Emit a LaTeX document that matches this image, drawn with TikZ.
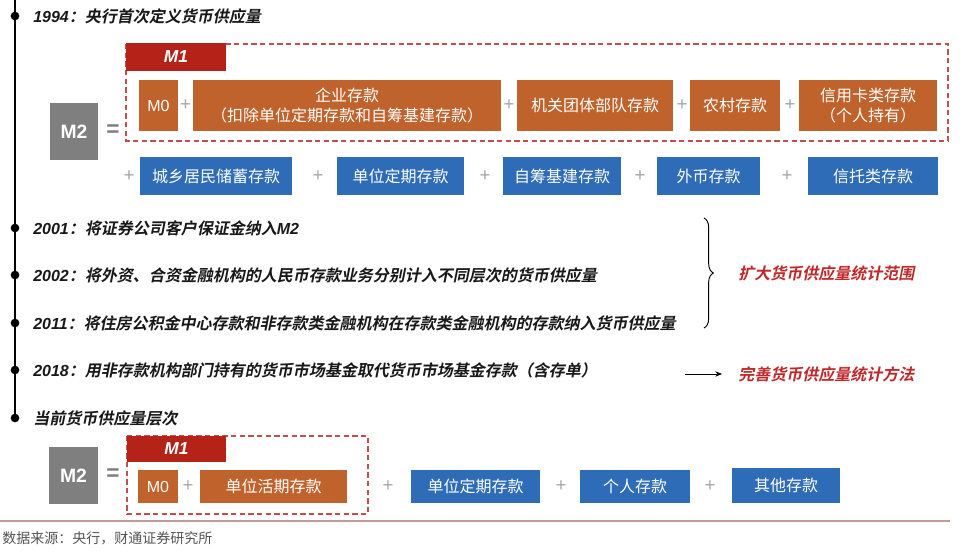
\documentclass[tikz,border=0pt]{standalone}
\usepackage{fontspec}
\setmainfont{Liberation Sans}
\newfontfamily\cjk{Noto Sans CJK SC}
\newfontfamily\cjkh[FakeSlant=0.2]{Noto Sans CJK SC Bold}
\usetikzlibrary{decorations.pathreplacing,arrows.meta}
\definecolor{orB}{HTML}{C0622B}
\definecolor{redB}{HTML}{B52218}
\definecolor{bluB}{HTML}{2E6CB8}
\definecolor{gryB}{HTML}{7F7F7F}
\definecolor{dashR}{HTML}{C0504D}
\definecolor{lblR}{HTML}{C0282A}
\definecolor{plusG}{HTML}{A6A6A6}
\definecolor{srcG}{HTML}{555555}
\definecolor{ruleR}{HTML}{C49A94}
\tikzset{
 wh/.style 2 args={minimum width=#1*0.75pt, minimum height=#2*0.75pt},
 cbox/.style={inner sep=0pt, text=white, font=\cjk\fontsize{12}{15}\selectfont, align=center},
 orbox/.style={cbox, fill=orB},
 blbox/.style={cbox, fill=bluB},
 m1box/.style={inner sep=0pt, fill=redB, text=white, font=\bfseries\itshape\fontsize{13}{14}\selectfont},
 m2box/.style={inner sep=0pt, fill=gryB, text=white, font=\bfseries\fontsize{14.5}{16}\selectfont},
 m0box/.style={orbox, font=\fontsize{12}{14}\selectfont},
 dbox/.style={draw=dashR, line width=0.9pt, dash pattern=on 4pt off 2.5pt},
 plus/.style={text=plusG, font=\fontsize{14}{14}\selectfont, inner sep=0pt},
 eq/.style={text=gryB, font=\bfseries\fontsize{17}{17}\selectfont, inner sep=0pt},
 head/.style={anchor=west, inner sep=0pt, font=\cjkh\fontsize{12}{14}\selectfont, text=black!90},
 lbl/.style={anchor=west, inner sep=0pt, font=\cjkh\fontsize{12}{14}\selectfont, text=lblR},
 tdot/.style={circle, fill=black, inner sep=0pt, minimum size=6.5pt},
}
\newcommand{\yr}[1]{{\fontspec{Liberation Sans}\bfseries\itshape #1}}
\begin{document}
\begin{tikzpicture}[x=0.75pt,y=-0.75pt]
\fill[white] (0,0) rectangle (960,552);
\useasboundingbox (0,0) rectangle (960,552);

% timeline
\draw[line width=1.5pt] (15,0) -- (15,420);
\node[tdot] (d1) at (15,16) {};
\node[tdot] (d2) at (15,228) {};
\node[tdot] (d3) at (15,275) {};
\node[tdot] (d4) at (15,323) {};
\node[tdot] (d5) at (15,370) {};
\node[tdot] (d6) at (15,418) {};

\node[head] (h1) at (33,16) {\yr{1994}：央行首次定义货币供应量};
\node[head] (h2) at (33,228) {\yr{2001}：将证券公司客户保证金纳入\yr{M2}};
\node[head] (h3) at (33,275) {\yr{2002}：将外资、合资金融机构的人民币存款业务分别计入不同层次的货币供应量};
\node[head] (h4) at (33,323) {\yr{2011}：将住房公积金中心存款和非存款类金融机构在存款类金融机构的存款纳入货币供应量};
\node[head] (h5) at (33,370) {\yr{2018}：用非存款机构部门持有的货币市场基金取代货币市场基金存款（含存单）};
\node[head] (h6) at (33,418) {当前货币供应量层次};

% 1994 structure
\draw[dbox] (126,44) rectangle (948,141);
\node[m1box, wh={100}{28}] (m1a) at (176,57) {M1};
\node[m2box, wh={48}{57}] (m2a) at (74,131.5) {M2};
\node[eq] (eqa) at (113,131) {=};
\node[m0box, wh={39}{51}] (m0a) at (158.5,105.5) {M0};
\node[orbox, wh={308}{51}] (qy) at (347,105.5) {企业存款\\（扣除单位定期存款和自筹基建存款）};
\node[orbox, wh={156}{51}] (jg) at (595,105.5) {机关团体部队存款};
\node[orbox, wh={90}{51}] (nc) at (735,105.5) {农村存款};
\node[orbox, wh={138}{51}] (xyk) at (868,105.5) {信用卡类存款\\（个人持有）};
\node[plus] (p1) at (185.5,105.5) {+};
\node[plus] (p2) at (509,105.5) {+};
\node[plus] (p3) at (682,105.5) {+};
\node[plus] (p4) at (790,105.5) {+};

\node[blbox, wh={152}{38}] (cx) at (216,176) {城乡居民储蓄存款};
\node[blbox, wh={127}{38}] (dwdq) at (400.5,176) {单位定期存款};
\node[blbox, wh={118}{38}] (zc) at (562,176) {自筹基建存款};
\node[blbox, wh={103}{38}] (wb) at (708.5,176) {外币存款};
\node[blbox, wh={130}{38}] (xt) at (873,176) {信托类存款};
\node[plus] (q1) at (129,176) {+};
\node[plus] (q2) at (318,176) {+};
\node[plus] (q3) at (485,176) {+};
\node[plus] (q4) at (640,176) {+};
\node[plus] (q5) at (787,176) {+};

% brace and arrow
\coordinate (bt) at (704,218);
\coordinate (bb) at (704,328);
\draw[line width=0.7pt, decorate, decoration={brace, amplitude=7pt}] (bt) -- (bb);
\node[lbl] (l1) at (738,273) {扩大货币供应量统计范围};
\coordinate (as) at (685,374);
\coordinate (ae) at (722,374);
\draw[line width=0.6pt, -{Stealth[length=5pt,width=4pt]}] (as) -- (ae);
\node[lbl] (l2) at (738,374) {完善货币供应量统计方法};

% current structure
\draw[dbox] (127,436) rectangle (368,514);
\node[m1box, wh={99}{26}] (m1b) at (176.5,449) {M1};
\node[m2box, wh={49}{57}] (m2b) at (73.5,475.5) {M2};
\node[eq] (eqb) at (113,475) {=};
\node[m0box, wh={40}{33}] (m0b) at (158,486.5) {M0};
\node[orbox, wh={147}{33}] (dwhq) at (273.5,486.5) {单位活期存款};
\node[plus] (r1) at (188,486.5) {+};
\node[plus] (r2) at (388,486.5) {+};
\node[blbox, wh={129}{33}] (dwdq2) at (475.5,486.5) {单位定期存款};
\node[plus] (r3) at (561,486.5) {+};
\node[blbox, wh={110}{33}] (gr) at (635,486.5) {个人存款};
\node[plus] (r4) at (710,486.5) {+};
\node[blbox, wh={108}{35}] (qt) at (786,485.5) {其他存款};

% footer
\draw[ruleR, line width=0.8pt] (0,521) -- (950,521);
\node[anchor=west, inner sep=0pt, text=srcG, font=\cjk\fontsize{10.5}{12}\selectfont] (src) at (2,538) {数据来源：央行，财通证券研究所};
\end{tikzpicture}
\end{document}
